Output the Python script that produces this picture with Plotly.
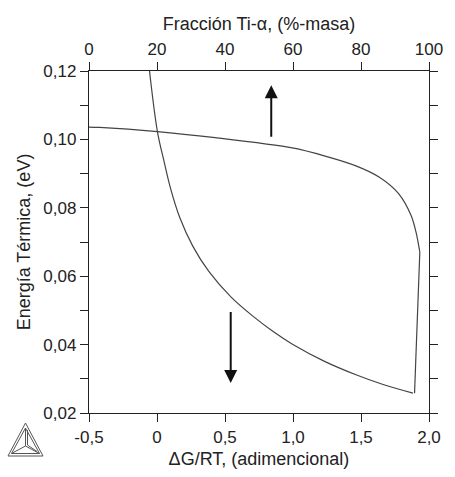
import plotly.graph_objects as go

# --- Data ---
# Curve vs. bottom axis (ΔG/RT)
dg_rt = [-0.055, 0.003, 0.051, 0.098, 0.168, 0.263, 0.381, 0.547, 0.712,
         0.854, 0.996, 1.232, 1.468, 1.657, 1.882]
energia_dg = [0.1200, 0.1023, 0.0937, 0.0859, 0.0771, 0.0688, 0.0614, 0.0538,
              0.0481, 0.0438, 0.0401, 0.0351, 0.0311, 0.0284, 0.0258]

# Curve vs. top axis (Fracción Ti-α)
frac_ti_alpha = [0, 3.1, 20.1, 37.1, 59.8, 69.2, 78.7, 85.3, 91.0, 94.8,
                 96.2, 97.3]
energia_frac = [0.1036, 0.1035, 0.1023, 0.1005, 0.0975, 0.0952, 0.0922,
                0.0890, 0.0842, 0.0776, 0.0728, 0.0671]
# steep final segment of the same curve
frac_ti_alpha_tail = [97.3, 96.8, 95.9, 95.75]
energia_frac_tail = [0.0671, 0.0550, 0.0339, 0.0258]

# Tick labels
x_ticks = [-0.5, 0, 0.5, 1.0, 1.5, 2.0]
x_ticktext = ["-0,5", "0", "0,5", "1,0", "1,5", "2,0"]
x2_ticks = [0, 20, 40, 60, 80, 100]
y_ticks = [0.02, 0.03, 0.04, 0.05, 0.06, 0.07, 0.08, 0.09, 0.10, 0.11, 0.12]
y_ticktext = ["0,02", "", "0,04", "", "0,06", "", "0,08", "", "0,10", "", "0,12"]

FONT = "Liberation Sans, Arial, sans-serif"
AX = "#222222"
CURVE = "#444444"

fig = go.Figure()
fig.add_trace(go.Scatter(x=dg_rt, y=energia_dg, mode="lines",
                         line=dict(color=CURVE, width=1.2, shape="spline", smoothing=1.0),
                         xaxis="x", yaxis="y", showlegend=False, hoverinfo="skip"))
fig.add_trace(go.Scatter(x=frac_ti_alpha, y=energia_frac, mode="lines",
                         line=dict(color=CURVE, width=1.2, shape="spline", smoothing=0.8),
                         xaxis="x2", yaxis="y", showlegend=False, hoverinfo="skip"))
fig.add_trace(go.Scatter(x=frac_ti_alpha_tail, y=energia_frac_tail, mode="lines",
                         line=dict(color=CURVE, width=1.2),
                         xaxis="x2", yaxis="y", showlegend=False, hoverinfo="skip"))

axis_common = dict(showgrid=False, zeroline=False, showline=True, linecolor=AX,
                   linewidth=1.3, ticks="outside", ticklen=8, tickwidth=1.3,
                   tickcolor=AX, tickfont=dict(family=FONT, size=17, color="#222"))

fig.update_layout(
    width=455, height=477,
    margin=dict(l=89, r=13, t=71, b=55),
    paper_bgcolor="white", plot_bgcolor="white",
    separators=",.",
    xaxis=dict(range=[-0.5, 2.0], tickvals=x_ticks, ticktext=x_ticktext,
               title=dict(text="ΔG/RT, (adimencional)",
                          font=dict(family=FONT, size=18, color="#222"), standoff=6),
               **axis_common),
    xaxis2=dict(range=[0, 100], tickvals=x2_ticks, overlaying="x", side="top",
                anchor="y",
                title=dict(text="Fracción Ti-α, (%-masa)",
                           font=dict(family=FONT, size=18, color="#222"), standoff=4),
                **axis_common),
    yaxis=dict(range=[0.02, 0.12], tickvals=y_ticks, ticktext=y_ticktext,
               mirror="ticks",
               title=dict(text="Energía Térmica, (eV)",
                          font=dict(family=FONT, size=18, color="#222"), standoff=8),
               **axis_common),
)

# Arrows
fig.add_annotation(x=53.6, y=0.1158, ax=53.6, ay=0.1003, xref="x2", yref="y",
                   axref="x2", ayref="y", showarrow=True, arrowhead=2,
                   arrowsize=1.3, arrowwidth=2, arrowcolor="#111", text="")
fig.add_annotation(x=0.542, y=0.0288, ax=0.542, ay=0.0500, xref="x", yref="y",
                   axref="x", ayref="y", showarrow=True, arrowhead=2,
                   arrowsize=1.3, arrowwidth=2, arrowcolor="#111", text="")

# Logo (decorative triangle) in pixels relative to the plot's bottom-left corner
logo = dict(type="path", xref="paper", yref="paper", xsizemode="pixel",
            ysizemode="pixel", xanchor=0, yanchor=0,
            line=dict(color="#555", width=1))
fig.add_shape(path="M -81 -43 L -46 -43 L -63.5 -10 Z", **logo)
fig.add_shape(path="M -77.5 -40.5 L -49.5 -40.5 L -63.5 -15 Z", **logo)
fig.add_shape(path="M -63.5 -15 L -63.5 -33 M -77.5 -40.5 L -63.5 -33 L -49.5 -40.5", **logo)
fig.add_shape(path="M -61.5 -17 L -61.5 -32 L -52 -38.5", **logo)

fig.write_html("out.html")
